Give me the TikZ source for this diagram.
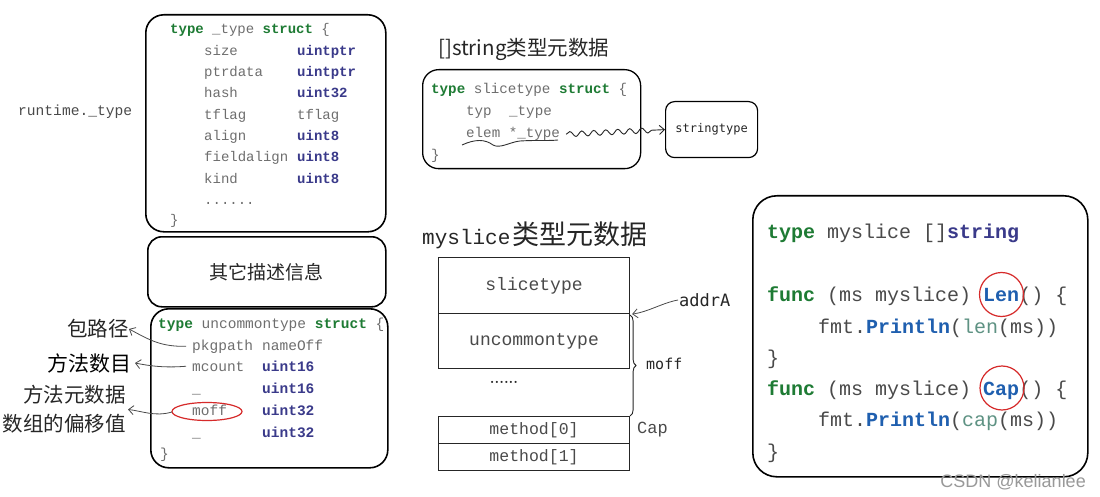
\documentclass[tikz,border=0pt]{standalone}
\usepackage{fontspec}
\setmonofont{Liberation Mono}
\newfontfamily\cjk{Noto Sans CJK SC}
\newfontfamily\handmono{DejaVu Sans Mono}
\newfontfamily\wmfont{Liberation Sans}
\usetikzlibrary{arrows.meta,decorations.pathmorphing,decorations.pathreplacing}
\definecolor{kwgreen}{HTML}{1E7B34}
\definecolor{tyblue}{HTML}{3A3A8A}
\definecolor{fnblue}{HTML}{1F5FAF}
\definecolor{bigreen}{HTML}{5E9283}
\definecolor{codegray}{HTML}{6E6E6E}
\definecolor{darkgray}{HTML}{4A4A4A}
\definecolor{circred}{HTML}{D62A2A}
\newcommand\kw[1]{\textcolor{kwgreen}{\bfseries #1}}
\newcommand\tyc[1]{\textcolor{tyblue}{\bfseries #1}}
\newcommand\fnc[1]{\textcolor{fnblue}{\bfseries #1}}
\newcommand\bic[1]{\textcolor{bigreen}{#1}}
\tikzset{
  rbox/.style={draw=black, line width=1.6pt, inner sep=0pt, anchor=north west},
  sbox/.style={draw=black!85, line width=1.1pt, inner sep=0pt, anchor=north west},
  cA/.style={font={\ttfamily\fontsize{14}{16}\selectfont}, text=codegray, anchor=base west, inner sep=0pt},
  cB/.style={font={\ttfamily\fontsize{14.5}{16}\selectfont}, text=codegray, anchor=base west, inner sep=0pt},
  cS/.style={font={\ttfamily\fontsize{14.2}{16}\selectfont}, text=codegray, anchor=base west, inner sep=0pt},
  cR/.style={font={\ttfamily\fontsize{20}{22}\selectfont}, text=darkgray, anchor=base west, inner sep=0pt},
  lbl/.style={font={\cjk\fontsize{20.5}{29}\selectfont}, text=black!85, anchor=east, inner sep=0pt, align=right},
  larrow/.style={draw=darkgray, line width=0.8pt, -{Straight Barb[length=5pt,width=9pt]}},
  redc/.style={draw=circred, line width=1.2pt},
}
\begin{document}
\begin{tikzpicture}[x=1pt,y=-1pt]
\useasboundingbox (0,0) rectangle (1100,497);
\fill[white] (0,0) rectangle (1100,497);

% ---------- runtime._type box ----------
\node[rbox, rounded corners=18pt, minimum width=240pt, minimum height=217pt] (tbox) at (145,14) {};
\node[font={\ttfamily\fontsize{14.6}{16}\selectfont}, text=darkgray, anchor=base west, inner sep=0pt] (rtlbl) at (18,116) {runtime.\_type};
\node[cA] (t0) at (170,34) {\kw{type} \_type \kw{struct} \{};
\node[cA] (t1) at (204,55.3) {size};
\node[cA] (t1b) at (297,55.3) {\tyc{uintptr}};
\node[cA] (t2) at (204,76.6) {ptrdata};
\node[cA] (t2b) at (297,76.6) {\tyc{uintptr}};
\node[cA] (t3) at (204,97.9) {hash};
\node[cA] (t3b) at (297,97.9) {\tyc{uint32}};
\node[cA] (t4) at (204,119.2) {tflag};
\node[cA] (t4b) at (297,119.2) {tflag};
\node[cA] (t5) at (204,140.5) {align};
\node[cA] (t5b) at (297,140.5) {\tyc{uint8}};
\node[cA] (t6) at (204,161.8) {fieldalign};
\node[cA] (t6b) at (297,161.8) {\tyc{uint8}};
\node[cA] (t7) at (204,183.1) {kind};
\node[cA] (t7b) at (297,183.1) {\tyc{uint8}};
\node[cA] (t8) at (204,204.4) {......};
\node[cA] (t9) at (170,225) {\}};

% ---------- other info box ----------
\node[rbox, rounded corners=14pt, minimum width=238pt, minimum height=70pt, font={\cjk\fontsize{19}{21}\selectfont}, text=black!85] (obox) at (147,236) {其它描述信息};

% ---------- uncommontype box ----------
\node[rbox, rounded corners=18pt, minimum width=237pt, minimum height=159pt] (ubox) at (150,308) {};
\node[cB] (u0) at (158,328) {\kw{type} uncommontype \kw{struct} \{};
\node[cB] (u1) at (192,350) {pkgpath};
\node[cB] (u1b) at (262,350) {nameOff};
\node[cB] (u2) at (192,371) {mcount};
\node[cB] (u2b) at (262,371) {\tyc{uint16}};
\node[cB] (u3) at (192,393) {\_};
\node[cB] (u3b) at (262,393) {\tyc{uint16}};
\node[cB] (u4) at (192,415) {moff};
\node[cB] (u4b) at (262,415) {\tyc{uint32}};
\node[cB] (u5) at (192,437) {\_};
\node[cB] (u5b) at (262,437) {\tyc{uint32}};
\node[cB] (u6) at (160,458) {\}};
\draw[redc] (207,411.5) ellipse [x radius=35, y radius=9];

% left labels
\node[lbl] (lpk) at (129,329) {包路径};
\node[lbl, font={\cjk\fontsize{21}{29}\selectfont}, text=black] (lmc) at (132,363) {方法数目};
\node[lbl] (lmo) at (126,409.5) {方法元数据\\数组的偏移值};
\draw[larrow] ([xshift=-6pt]u1.west) .. controls (160,347) and (148,339) .. (lpk.east);
\draw[larrow] ([xshift=-6pt]u2.west) .. controls (165,368) and (150,366) .. ([xshift=3pt]lmc.east);
\draw[larrow] (172,412) .. controls (155,417) and (142,411) .. ([xshift=2pt]lmo.east);

% ---------- []string metadata ----------
\node[font={\cjk\fontsize{20.5}{22}\selectfont}, text=black!85, anchor=west, inner sep=0pt] (strtitle) at (438,49) {[]string类型元数据};
\node[rbox, rounded corners=16pt, line width=1.3pt, minimum width=218pt, minimum height=99pt] (sbox) at (422,69) {};
\node[cS] (s0) at (431,94) {\kw{type} slicetype \kw{struct} \{};
\node[cS] (s1) at (466,116) {typ};
\node[cS] (s1b) at (509,116) {\_type};
\node[cS] (el) at (466,138) {elem *\_type};
\node[cS] (s3) at (431,160) {\}};
\draw[black!80, line width=0.9pt] (462,145) .. controls (475,139) and (485,139) .. (493,145)
   .. controls (500,149) and (510,142) .. (520,141) .. controls (535,140) and (548,141) .. (558,140);
\node[sbox, draw=black, line width=1.2pt, rounded corners=9pt, minimum width=92pt, minimum height=56pt,
      font={\handmono\fontsize{12}{14}\selectfont}, text=black!85] (st) at (665,101) {stringtype};
\draw[black!85, line width=0.9pt, decorate,
      decoration={snake, amplitude=2.6pt, segment length=12pt, post length=8pt},
      -{Straight Barb[length=5pt,width=9pt]}] ([xshift=6pt]el.east) -- (st.west);

% ---------- myslice metadata ----------
\node[anchor=base west, inner sep=0pt, text=black!85] (mtitle) at (422,244)
  {{\ttfamily\fontsize{21}{24}\selectfont myslice}\hspace{2pt}{\cjk\fontsize{27}{30}\selectfont 类型元数据}};
\node[sbox, minimum width=191pt, minimum height=56pt, font={\ttfamily\fontsize{18}{20}\selectfont}, text=darkgray] (ms1) at (438,257) {slicetype};
\node[sbox, minimum width=191pt, minimum height=55pt, font={\ttfamily\fontsize{18}{20}\selectfont}, text=darkgray] (ms2) at (438,313) {uncommontype};
\node[font={\bfseries\fontsize{15}{16}\selectfont}, text=black!85, inner sep=0pt] (mdots) at (504,382) {......};
\node[sbox, minimum width=191pt, minimum height=27pt, font={\ttfamily\fontsize{16.5}{18}\selectfont}, text=darkgray] (mm0) at (438,416) {method[0]};
\node[sbox, minimum width=191pt, minimum height=27pt, font={\ttfamily\fontsize{16.5}{18}\selectfont}, text=darkgray] (mm1) at (438,443) {method[1]};
\draw[black!85, line width=0.9pt, decorate, decoration={brace, amplitude=6pt}] ([yshift=-2pt]ms2.north east) -- (mm0.north east);
\node[font={\handmono\fontsize{15}{17}\selectfont}, text=black!85, anchor=west, inner sep=0pt] (moffl) at (646,364) {moff};
\node[font={\handmono\fontsize{17}{19}\selectfont}, text=black!85, anchor=west, inner sep=0pt] (addra) at (679,300) {addrA};
\draw[larrow] ([xshift=-1pt]addra.west) .. controls (662,303) and (648,312) .. ([xshift=2pt]ms1.south east);
\node[font={\ttfamily\fontsize{17}{19}\selectfont}, text=darkgray, anchor=west, inner sep=0pt] (capl) at (637,430) {Cap};

% ---------- myslice source ----------
\node[rbox, rounded corners=24pt, minimum width=335pt, minimum height=281pt] (rbox) at (752,195) {};
\node[cR] (r0) at (767,239) {\kw{type} myslice []\tyc{string}};
\node[cR] (r1) at (767,301) {\kw{func} (ms myslice) \fnc{Len}() \{};
\node[cR] (r2) at (818,333) {fmt.\fnc{Println}(\bic{len}(ms))};
\node[cR] (r3) at (767,364) {\}};
\node[cR] (r4) at (767,395) {\kw{func} (ms myslice) \fnc{Cap}() \{};
\node[cR] (r5) at (818,426) {fmt.\fnc{Println}(\bic{cap}(ms))};
\node[cR] (r6) at (767,458) {\}};
\draw[redc] (1001.5,294.5) circle [radius=22];
\draw[redc] (1002,388) circle [radius=22];

% watermark
\node[font={\wmfont\fontsize{18}{20}\selectfont}, text=black!40, anchor=east, inner sep=0pt] (wm) at (1086,482) {CSDN @kelianlee};
\end{tikzpicture}
\end{document}
